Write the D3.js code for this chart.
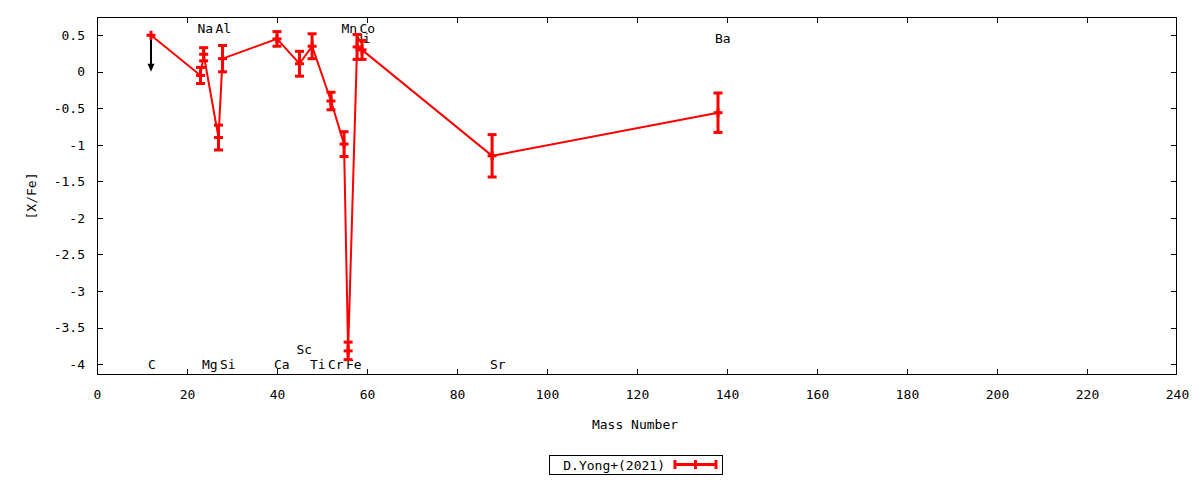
<!DOCTYPE html>
<html>
<head>
<meta charset="utf-8">
<script src="https://cdn.jsdelivr.net/npm/d3@7"></script>
<style>
  html, body { margin: 0; padding: 0; background: #fff; }
  svg { display: block; font-family: "DejaVu Sans Mono", monospace; }
</style>
</head>
<body>
<svg id="chart" width="1200" height="480"></svg>
<script>
// ---- data ----
const elements = ["C", "Na", "Mg", "Al", "Si", "Ca", "Sc", "Ti", "Cr", "Mn", "Fe", "Ni", "Co", "Sr", "Ba"];
const massNumbers = [12, 23, 23.7, 27, 27.9, 40, 45, 47.8, 52, 54.9, 55.8, 57.8, 58.9, 87.8, 138];
const xFeValues = [0.5, -0.05, 0.24, -0.9, 0.18, 0.45, 0.11, 0.35, -0.4, -0.99, -3.82, 0.34, 0.30, -1.15, -0.56];
const xFeErrors = [0, 0.11, 0.09, 0.17, 0.18, 0.10, 0.17, 0.17, 0.12, 0.17, 0.12, 0.17, 0.13, 0.29, 0.27];
const upperLimits = ["C"];
const upperLimitTo = [0];

// element labels (data coordinates: mass number, [X/Fe] level)
const labelNames = ["C", "Na", "Mg", "Al", "Si", "Ca", "Sc", "Ti", "Cr", "Mn", "Fe", "Ni", "Co", "Sr", "Ba"];
const labelMass = [12, 23, 24, 27, 28, 40, 45, 48, 52, 55, 56, 58, 59, 88, 138];
const labelLevel = [-4.0, 0.6, -4.0, 0.6, -4.0, -4.0, -3.8, -4.0, -4.0, 0.6, -4.0, 0.46, 0.6, -4.0, 0.46];

const xTicks = [0, 20, 40, 60, 80, 100, 120, 140, 160, 180, 200, 220, 240];
const yTicks = [0.5, 0, -0.5, -1, -1.5, -2, -2.5, -3, -3.5, -4];
const xTitle = "Mass Number";
const yTitle = "[X/Fe]";
const seriesName = "D.Yong+(2021)";

// ---- layout ----
const svg = d3.select("#chart");
const L = 97, R = 1177, T = 17, B = 375;
const x = d3.scaleLinear().domain([0, 240]).range([L, R]);
const y = d3.scaleLinear().domain([-4.15, 0.75]).range([B, T]);
const red = "#ff0000";
const fs = 13;

const pts = elements.map((e, i) => ({ e, m: massNumbers[i], v: xFeValues[i], err: xFeErrors[i] }));

// frame
svg.append("rect").attr("x", L + 0.5).attr("y", T + 0.5)
  .attr("width", R - L - 1).attr("height", B - T - 1)
  .attr("fill", "none").attr("stroke", "#000").attr("stroke-width", 1);

// axes with gnuplot-like inward mirrored ticks
const tl = 6;
const xb = svg.append("g").attr("transform", `translate(0,${B - 0.5})`)
  .call(d3.axisBottom(x).tickValues(xTicks).tickSize(0).tickPadding(15).tickFormat(d => String(d)));
xb.select(".domain").remove();
xb.selectAll("text").attr("font-size", fs).attr("font-family", "DejaVu Sans Mono");
xTicks.forEach(t => {
  const px = Math.round(x(t)) + 0.5;
  if (t > 0 && t < 240) {
    svg.append("line").attr("x1", px).attr("x2", px).attr("y1", B).attr("y2", B - tl).attr("stroke", "#000");
    svg.append("line").attr("x1", px).attr("x2", px).attr("y1", T).attr("y2", T + tl).attr("stroke", "#000");
  }
});

const yl = svg.append("g").attr("transform", `translate(${L},0)`)
  .call(d3.axisLeft(y).tickValues(yTicks).tickSize(0).tickPadding(12).tickFormat(d => String(d)));
yl.select(".domain").remove();
yl.selectAll("text").attr("font-size", fs).attr("font-family", "DejaVu Sans Mono");
yTicks.forEach(t => {
  const py = Math.round(y(t)) + 0.5;
  svg.append("line").attr("x1", L).attr("x2", L + tl).attr("y1", py).attr("y2", py).attr("stroke", "#000");
  svg.append("line").attr("x1", R).attr("x2", R - tl).attr("y1", py).attr("y2", py).attr("stroke", "#000");
});

// axis titles
svg.append("text").attr("x", (L + R) / 2 - 2).attr("y", 429).attr("text-anchor", "middle")
  .attr("font-size", fs).text(xTitle);
svg.append("text").attr("transform", `translate(36,${(T + B) / 2}) rotate(-90)`)
  .attr("text-anchor", "middle").attr("font-size", fs).text(yTitle);

// element labels
labelNames.forEach((n, i) => {
  svg.append("text").attr("x", x(labelMass[i]) - 3).attr("y", y(labelLevel[i]))
    .attr("dy", "0.35em").attr("font-size", fs).attr("text-anchor", "start").text(n);
});

// connecting line
svg.append("path").datum(pts)
  .attr("d", d3.line().x(d => x(d.m)).y(d => y(d.v)))
  .attr("fill", "none").attr("stroke", red).attr("stroke-width", 2);

// upper limit arrow
upperLimits.forEach((e, k) => {
  const p = pts.find(d => d.e === e);
  const px = x(p.m), y0 = y(p.v), y1 = y(upperLimitTo[k]);
  svg.append("line").attr("x1", px).attr("x2", px).attr("y1", y0).attr("y2", y1 - 6)
    .attr("stroke", "#000").attr("stroke-width", 2);
  svg.append("path").attr("d", `M${px - 3.5},${y1 - 8} L${px + 3.5},${y1 - 8} L${px},${y1} Z`).attr("fill", "#000");
});

// error bars and markers
const cap = 4.5;
const g = svg.append("g").attr("stroke", red).attr("stroke-width", 3);
pts.forEach(p => {
  const px = x(p.m);
  if (p.err > 0) {
    const yt = y(p.v + p.err), yb = y(p.v - p.err);
    g.append("line").attr("x1", px).attr("x2", px).attr("y1", yt).attr("y2", yb);
    g.append("line").attr("x1", px - cap).attr("x2", px + cap).attr("y1", yt).attr("y2", yt);
    g.append("line").attr("x1", px - cap).attr("x2", px + cap).attr("y1", yb).attr("y2", yb);
  }
  g.append("line").attr("x1", px - cap).attr("x2", px + cap).attr("y1", y(p.v)).attr("y2", y(p.v));
  g.append("line").attr("x1", px).attr("x2", px).attr("y1", y(p.v) - cap).attr("y2", y(p.v) + cap);
});

// legend
svg.append("rect").attr("x", 549.5).attr("y", 455.5).attr("width", 173).attr("height", 19)
  .attr("fill", "#fff").attr("stroke", "#000").attr("stroke-width", 1);
svg.append("text").attr("x", 665).attr("y", 465).attr("dy", "0.35em").attr("text-anchor", "end")
  .attr("font-size", fs).text(seriesName);
const lg = svg.append("g").attr("stroke", red).attr("stroke-width", 3);
lg.append("line").attr("x1", 675).attr("x2", 716).attr("y1", 464.5).attr("y2", 464.5);
[675, 716].forEach(cx => lg.append("line").attr("x1", cx).attr("x2", cx).attr("y1", 460).attr("y2", 469));
lg.append("line").attr("x1", 695.5).attr("x2", 695.5).attr("y1", 460).attr("y2", 469);
</script>
</body>
</html>
